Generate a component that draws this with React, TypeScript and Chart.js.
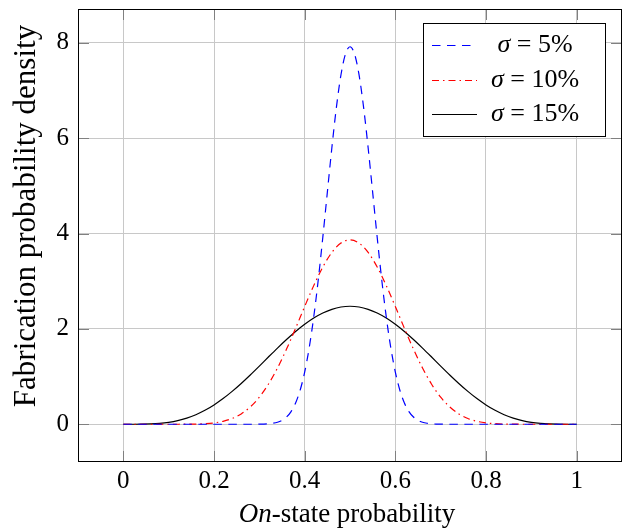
import React, { useEffect, useRef } from 'react';
import { Chart, registerables } from 'chart.js';

Chart.register(...registerables);

// ---- data ----
const xGrid = [0, 0.02, 0.04, 0.06, 0.08, 0.1, 0.12, 0.14, 0.16, 0.18, 0.2, 0.22, 0.24, 0.26, 0.28, 0.3, 0.32, 0.34, 0.36, 0.38, 0.4, 0.42, 0.44, 0.46, 0.48, 0.5, 0.52, 0.54, 0.56, 0.58, 0.6, 0.62, 0.64, 0.66, 0.68, 0.7, 0.72, 0.74, 0.76, 0.78, 0.8, 0.82, 0.84, 0.86, 0.88, 0.9, 0.92, 0.94, 0.96, 0.98, 1];

const xBlue = [0, 0.1, 0.2, 0.25, 0.28, 0.3, 0.31, 0.32, 0.33, 0.34, 0.35, 0.36, 0.37, 0.38, 0.39, 0.4, 0.41, 0.42, 0.43, 0.44, 0.45, 0.46, 0.47, 0.48, 0.49, 0.5, 0.51, 0.52, 0.53, 0.54, 0.55, 0.56, 0.57, 0.58, 0.59, 0.6, 0.61, 0.62, 0.63, 0.64, 0.65, 0.66, 0.67, 0.68, 0.69, 0.7, 0.72, 0.75, 0.8, 0.9, 1];

const sigma5 = [0, 0, 0, 0, 0.0002, 0.0017, 0.0041, 0.0094, 0.0205, 0.042, 0.0817, 0.151, 0.266, 0.446, 0.714, 1.093, 1.603, 2.251, 3.032, 3.919, 4.864, 5.8, 6.648, 7.327, 7.767, 7.919, 7.767, 7.327, 6.648, 5.8, 4.864, 3.919, 3.032, 2.251, 1.603, 1.093, 0.714, 0.446, 0.266, 0.151, 0.0817, 0.042, 0.0205, 0.0094, 0.0041, 0.0017, 0.0002, 0, 0, 0, 0];

const sigma10 = [0, 0, 0, 0, 0, 0, 0.0003, 0.0013, 0.0042, 0.0118, 0.0285, 0.0617, 0.121, 0.217, 0.363, 0.568, 0.84, 1.179, 1.576, 2.014, 2.469, 2.908, 3.298, 3.604, 3.8, 3.868, 3.8, 3.604, 3.298, 2.908, 2.469, 2.014, 1.576, 1.179, 0.84, 0.568, 0.363, 0.217, 0.121, 0.0617, 0.0285, 0.0118, 0.0042, 0.0013, 0.0003, 0, 0, 0, 0, 0, 0];

const sigma15 = [0, 0.0001, 0.0012, 0.0059, 0.0174, 0.0393, 0.0751, 0.128, 0.2, 0.292, 0.405, 0.538, 0.689, 0.856, 1.034, 1.22, 1.41, 1.597, 1.777, 1.946, 2.097, 2.228, 2.334, 2.411, 2.459, 2.475, 2.459, 2.411, 2.334, 2.228, 2.097, 1.946, 1.777, 1.597, 1.41, 1.22, 1.034, 0.856, 0.689, 0.538, 0.405, 0.292, 0.2, 0.128, 0.0751, 0.0393, 0.0174, 0.0059, 0.0012, 0.0001, 0];

const xTicks = [0, 0.2, 0.4, 0.6, 0.8, 1];
const yTicks = [0, 2, 4, 6, 8];
const xRange = [-0.1, 1.1];
const yRange = [-0.792, 8.711];

const legendSymbol = 'σ';
const legendRest = [' = 5%', ' = 10%', ' = 15%'];
const xTitleItalic = 'On';
const xTitleRest = '-state probability';
const yTitle = 'Fabrication probability density';

const FONT = '"Liberation Serif", "Times New Roman", serif';

const decorPlugin = {
  id: 'decor',
  afterDatasetsDraw(chart: any) {
    const { ctx, chartArea: a, scales } = chart;
    ctx.save();

    // inward tick marks on all four sides
    ctx.strokeStyle = '#808080';
    ctx.lineWidth = 1;
    ctx.setLineDash([]);
    const L = 11;
    const seg = (x1: number, y1: number, x2: number, y2: number) => {
      ctx.beginPath();
      ctx.moveTo(x1, y1);
      ctx.lineTo(x2, y2);
      ctx.stroke();
    };
    scales.x.ticks.forEach((t: any) => {
      const px = Math.round(scales.x.getPixelForValue(t.value)) + 0.5;
      seg(px, a.bottom, px, a.bottom - L);
      seg(px, a.top, px, a.top + L);
    });
    scales.y.ticks.forEach((t: any) => {
      const py = Math.round(scales.y.getPixelForValue(t.value)) + 0.5;
      seg(a.left, py, a.left + L, py);
      seg(a.right, py, a.right - L, py);
    });

    // frame
    ctx.strokeStyle = '#000';
    ctx.lineWidth = 1;
    ctx.strokeRect(a.left + 0.5, a.top + 0.5, a.right - a.left - 1, a.bottom - a.top - 1);

    // legend
    const bw = 182, bh = 113;
    const bx = a.right - 199, by = a.top + 14;
    ctx.fillStyle = '#fff';
    ctx.fillRect(bx, by, bw, bh);
    ctx.strokeStyle = '#000';
    ctx.strokeRect(bx + 0.5, by + 0.5, bw, bh);
    chart.data.datasets.forEach((ds: any, i: number) => {
      const ry = Math.round(by + 22 + i * 34.5) + 0.5;
      ctx.save();
      ctx.strokeStyle = ds.borderColor;
      ctx.lineWidth = ds.borderWidth;
      ctx.setLineDash(ds.borderDash || []);
      seg(bx + 9, ry, bx + 54, ry);
      ctx.restore();
      const cx = bx + 112;
      const italic = `italic 26px ${FONT}`;
      const normal = `26px ${FONT}`;
      ctx.font = italic;
      const w1 = ctx.measureText(legendSymbol).width;
      ctx.font = normal;
      const w2 = ctx.measureText(legendRest[i]).width;
      const sx = cx - (w1 + w2) / 2;
      ctx.fillStyle = '#000';
      ctx.textBaseline = 'middle';
      ctx.textAlign = 'left';
      ctx.font = italic;
      ctx.fillText(legendSymbol, sx, ry);
      ctx.font = normal;
      ctx.fillText(legendRest[i], sx + w1, ry);
    });

    // x title
    {
      const italic = `italic 27px ${FONT}`;
      const normal = `27px ${FONT}`;
      ctx.font = italic;
      const w1 = ctx.measureText(xTitleItalic).width;
      ctx.font = normal;
      const w2 = ctx.measureText(xTitleRest).width;
      const cx = (a.left + a.right) / 2 - 3;
      const sx = cx - (w1 + w2) / 2;
      const ty = 522;
      ctx.fillStyle = '#000';
      ctx.textBaseline = 'alphabetic';
      ctx.textAlign = 'left';
      ctx.font = italic;
      ctx.fillText(xTitleItalic, sx, ty);
      ctx.font = normal;
      ctx.fillText(xTitleRest, sx + w1, ty);
    }

    // y title
    ctx.save();
    ctx.translate(35, 216);
    ctx.rotate(-Math.PI / 2);
    ctx.font = `31px ${FONT}`;
    ctx.fillStyle = '#000';
    ctx.textAlign = 'center';
    ctx.textBaseline = 'alphabetic';
    ctx.fillText(yTitle, 0, 0);
    ctx.restore();

    ctx.restore();
  },
};

export default function App() {
  const ref = useRef<HTMLCanvasElement>(null);

  useEffect(() => {
    const canvas = ref.current;
    if (!canvas) return;
    const lineBase = {
      pointRadius: 0,
      pointHoverRadius: 0,
      fill: false,
      borderWidth: 1.2,
      cubicInterpolationMode: 'monotone' as const,
    };
    const chart = new Chart(canvas, {
      type: 'line',
      data: {
        datasets: [
          {
            ...lineBase,
            label: legendSymbol + legendRest[0],
            data: xBlue.map((x, i) => ({ x, y: sigma5[i] })),
            borderColor: '#0000ff',
            borderDash: [8.5, 6.5],
          },
          {
            ...lineBase,
            label: legendSymbol + legendRest[1],
            data: xGrid.map((x, i) => ({ x, y: sigma10[i] })),
            borderColor: '#ff0000',
            borderDash: [7, 4, 1.5, 4],
          },
          {
            ...lineBase,
            label: legendSymbol + legendRest[2],
            data: xGrid.map((x, i) => ({ x, y: sigma15[i] })),
            borderColor: '#000000',
          },
        ],
      },
      options: {
        responsive: false,
        animation: false,
        events: [],
        layout: { padding: { top: 9, right: 4, left: 0, bottom: 0 } },
        plugins: {
          legend: { display: false },
          tooltip: { enabled: false },
        },
        scales: {
          x: {
            type: 'linear',
            min: xRange[0],
            max: xRange[1],
            afterBuildTicks: (s: any) => {
              s.ticks = xTicks.map((v) => ({ value: v }));
            },
            afterFit: (s: any) => {
              s.height = 69;
              s.paddingLeft = 0;
              s.paddingRight = 0;
            },
            grid: { color: '#c8c8c8', lineWidth: 1, drawTicks: false },
            border: { display: false },
            ticks: {
              padding: 4,
              color: '#000',
              font: { family: FONT, size: 25 },
              maxRotation: 0,
              autoSkip: false,
              callback: (v: any) => String(+v),
            },
          },
          y: {
            type: 'linear',
            min: yRange[0],
            max: yRange[1],
            afterBuildTicks: (s: any) => {
              s.ticks = yTicks.map((v) => ({ value: v }));
            },
            afterFit: (s: any) => {
              s.width = 78;
              s.paddingTop = 0;
              s.paddingBottom = 0;
            },
            grid: { color: '#c8c8c8', lineWidth: 1, drawTicks: false },
            border: { display: false },
            ticks: {
              padding: 9,
              color: '#000',
              font: { family: FONT, size: 25 },
              autoSkip: false,
              callback: (v: any) => String(+v),
            },
          },
        },
      },
      plugins: [decorPlugin],
    });
    return () => chart.destroy();
  }, []);

  return (
    <div style={{ position: 'fixed', left: 0, top: 0, width: 626, height: 531, background: '#fff' }}>
      <canvas ref={ref} width={626} height={531} style={{ display: 'block', width: 626, height: 531 }} />
    </div>
  );
}
